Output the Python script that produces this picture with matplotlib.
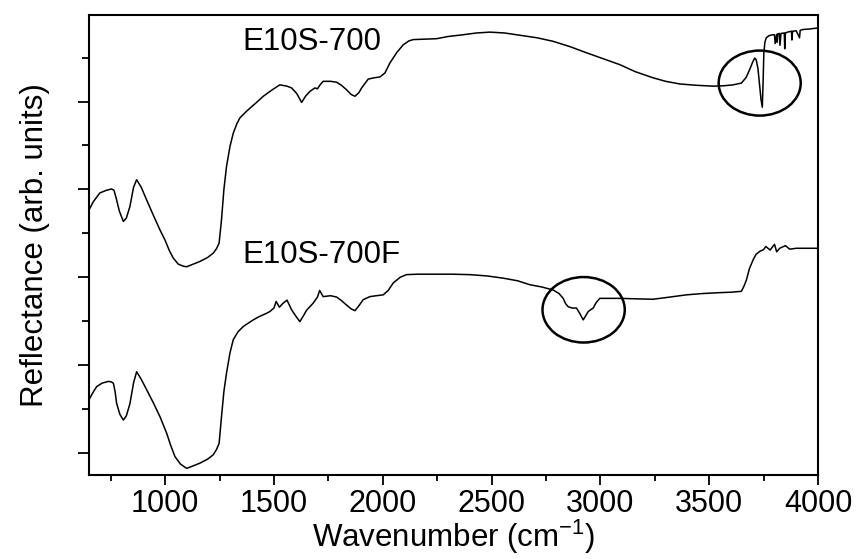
import matplotlib

matplotlib.use("Agg")

import matplotlib.pyplot as plt
from matplotlib.patches import Ellipse
from matplotlib.ticker import MultipleLocator

plt.rcParams["font.family"] = ["Liberation Sans", "DejaVu Sans"]

# wavenumber (cm-1) / reflectance (arb. units)
wn_700 = [651, 670, 700, 730, 754, 765, 775, 790, 808, 822, 838, 855, 869, 890, 915,
          945, 976, 999, 1020, 1037, 1060, 1085, 1099, 1125, 1160, 1195, 1221, 1236,
          1248, 1259, 1270, 1282, 1298, 1313, 1330, 1344, 1370, 1390, 1420, 1451,
          1490, 1527, 1560, 1581, 1605, 1627, 1645, 1665, 1688, 1700, 1712, 1726,
          1760, 1788, 1810, 1833, 1855, 1872, 1890, 1903, 1933, 1960, 1987, 2010,
          2033, 2065, 2094, 2120, 2140, 2200, 2247, 2300, 2369, 2430, 2492, 2560,
          2643, 2710, 2783, 2860, 2936, 3010, 3089, 3160, 3242, 3300, 3365, 3440,
          3518, 3570, 3610, 3648, 3670, 3686, 3700, 3709, 3716, 3724, 3732, 3738,
          3744, 3748, 3751, 3756, 3762, 3775, 3792, 3800, 3803, 3810, 3812, 3815,
          3822, 3825, 3830, 3845, 3847, 3850, 3860, 3870, 3878, 3880, 3883, 3900,
          3915, 3918, 3931, 3960, 3992, 4000]
refl_700 = [6.04, 6.22, 6.42, 6.48, 6.51, 6.48, 6.30, 6.00, 5.77, 5.85, 6.11, 6.55,
            6.72, 6.55, 6.26, 5.92, 5.58, 5.35, 5.10, 4.94, 4.80, 4.75, 4.74, 4.79,
            4.86, 4.95, 5.05, 5.15, 5.28, 5.81, 6.50, 7.02, 7.48, 7.78, 8.00, 8.13,
            8.26, 8.35, 8.48, 8.62, 8.76, 8.88, 8.85, 8.81, 8.68, 8.48, 8.62, 8.73,
            8.81, 8.79, 8.88, 8.96, 8.96, 8.94, 8.87, 8.77, 8.66, 8.62, 8.70, 8.81,
            9.01, 9.04, 9.06, 9.15, 9.38, 9.62, 9.79, 9.88, 9.91, 9.92, 9.93, 9.98,
            10.02, 10.06, 10.08, 10.06, 10.00, 9.95, 9.87, 9.75, 9.61, 9.48, 9.34,
            9.18, 9.04, 8.96, 8.90, 8.87, 8.85, 8.86, 8.88, 8.92, 9.05, 9.23, 9.40,
            9.49, 9.45, 9.25, 8.85, 8.55, 8.37, 9.00, 9.60, 9.85, 9.95, 10.00, 10.02,
            10.02, 9.82, 10.03, 9.85, 10.04, 10.05, 9.78, 10.05, 10.06, 9.70, 10.06,
            10.08, 10.09, 10.10, 9.90, 10.10, 10.11, 9.95, 10.12, 10.14, 10.15, 10.17,
            10.17]

wn_700f = [650, 665, 685, 710, 739, 752, 762, 770, 777, 792, 808, 822, 838, 855, 869,
           890, 915, 945, 976, 1007, 1025, 1045, 1070, 1099, 1125, 1160, 1195, 1221,
           1236, 1248, 1259, 1270, 1282, 1298, 1313, 1335, 1359, 1380, 1405, 1430,
           1466, 1481, 1500, 1510, 1525, 1542, 1560, 1581, 1600, 1619, 1635, 1650,
           1680, 1700, 1710, 1726, 1760, 1788, 1810, 1833, 1855, 1872, 1890, 1910,
           1941, 1970, 2002, 2025, 2048, 2080, 2109, 2160, 2247, 2320, 2400, 2480,
           2553, 2620, 2676, 2730, 2783, 2810, 2829, 2840, 2852, 2870, 2890, 2905,
           2921, 2932, 2944, 2955, 2967, 2980, 2997, 3040, 3089, 3160, 3242, 3320,
           3395, 3470, 3548, 3600, 3648, 3660, 3671, 3685, 3702, 3715, 3732, 3750,
           3760, 3780, 3800, 3810, 3824, 3850, 3870, 3900, 3950, 3992, 4000]
refl_700f = [1.71, 1.85, 2.01, 2.09, 2.13, 2.12, 2.09, 1.90, 1.63, 1.38, 1.25, 1.35,
             1.62, 2.10, 2.35, 2.18, 1.94, 1.65, 1.33, 0.95, 0.68, 0.42, 0.25, 0.15,
             0.20, 0.27, 0.36, 0.46, 0.58, 0.72, 1.33, 1.90, 2.32, 2.78, 3.08, 3.26,
             3.38, 3.45, 3.53, 3.60, 3.68, 3.72, 3.80, 3.95, 3.82, 3.91, 3.98, 3.76,
             3.62, 3.49, 3.62, 3.75, 3.91, 4.05, 4.20, 4.06, 4.08, 4.05, 3.97, 3.87,
             3.78, 3.74, 3.85, 3.99, 4.06, 4.08, 4.10, 4.20, 4.37, 4.50, 4.56, 4.57,
             4.57, 4.57, 4.56, 4.53, 4.48, 4.42, 4.33, 4.28, 4.21, 4.13, 4.02, 3.90,
             3.83, 3.80, 3.80, 3.68, 3.53, 3.62, 3.72, 3.76, 3.80, 3.92, 4.02, 4.02,
             4.02, 4.01, 4.00, 4.05, 4.10, 4.13, 4.15, 4.16, 4.18, 4.30, 4.44, 4.70,
             4.90, 5.02, 5.09, 5.13, 5.20, 5.12, 5.25, 5.08, 5.16, 5.22, 5.14, 5.16,
             5.16, 5.16, 5.16]

labels = ["E10S-700", "E10S-700F"]
label_pos = [(1353, 9.86), (1353, 5.01)]
# circled features: (centre wavenumber, centre reflectance, width, height)
circles = [(3732, 8.92, 377, 1.48), (2923, 3.76, 378, 1.49)]

fig = plt.figure(figsize=(8.58, 5.59), dpi=100)
ax = fig.add_axes([0.1037, 0.1503, 0.8497, 0.8229])

ax.plot(wn_700, refl_700, color="black", lw=1.1)
ax.plot(wn_700f, refl_700f, color="black", lw=1.1)

for (x, y), text in zip(label_pos, labels):
    ax.text(x, y, text, fontsize=22.5, ha="left", va="center")

for cx, cy, w, h in circles:
    ax.add_patch(Ellipse((cx, cy), w, h, fill=False, edgecolor="black", lw=1.8))

ax.set_xlim(650, 4000)
ax.set_ylim(0, 10.47)
ax.xaxis.set_major_locator(MultipleLocator(500))
ax.xaxis.set_minor_locator(MultipleLocator(250))
ax.set_yticks([0.5, 2.5, 4.5, 6.5, 8.5])
ax.set_yticks([1.5, 3.5, 5.5, 7.5, 9.5], minor=True)
ax.set_yticklabels([])
ax.tick_params(which="major", direction="out", length=7, width=1.3, labelsize=22, pad=3)
ax.tick_params(which="minor", direction="out", length=4.5, width=1.3)
ax.tick_params(axis="y", which="major", length=8)
ax.tick_params(axis="y", which="minor", length=5)
for spine in ax.spines.values():
    spine.set_linewidth(1.5)

ax.set_xlabel("Wavenumber (cm$^{\\mathregular{-1}}$)", fontsize=22.5, labelpad=-1)
ax.set_ylabel("Reflectance (arb. units)", fontsize=22.5, labelpad=17)

fig.savefig("out.png", dpi=100)
plt.close(fig)
